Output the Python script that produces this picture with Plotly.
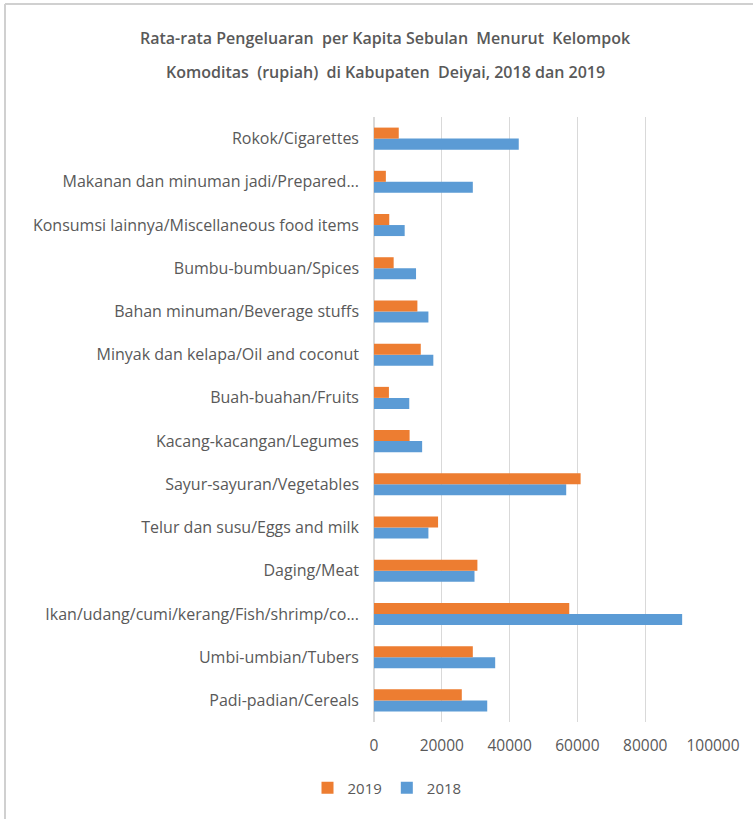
import plotly.graph_objects as go

categories = [
    "Padi-padian/Cereals",
    "Umbi-umbian/Tubers",
    "Ikan/udang/cumi/kerang/Fish/shrimp/co...",
    "Daging/Meat",
    "Telur dan susu/Eggs and milk",
    "Sayur-sayuran/Vegetables",
    "Kacang-kacangan/Legumes",
    "Buah-buahan/Fruits",
    "Minyak dan kelapa/Oil and coconut",
    "Bahan minuman/Beverage stuffs",
    "Bumbu-bumbuan/Spices",
    "Konsumsi lainnya/Miscellaneous food items",
    "Makanan dan minuman jadi/Prepared...",
    "Rokok/Cigarettes",
]
values_2019 = [25900, 29150, 57600, 30500, 18900, 60950, 10500, 4400, 13800, 12800, 5800, 4500, 3500, 7300]
values_2018 = [33400, 35750, 90900, 29650, 16050, 56700, 14200, 10400, 17500, 16050, 12400, 9050, 29150, 42700]
x_ticks = [0, 20000, 40000, 60000, 80000, 100000]

W, H = 753, 819
L, R, T, B = 374, 713, 117, 722

def px(x):
    return (x - L) / (R - L)

def py(y):
    return (B - y) / (B - T)

fig = go.Figure()
fig.add_trace(go.Bar(y=categories, x=values_2018, name="2018", orientation="h",
                     marker=dict(color="#5B9BD5", line=dict(width=0))))
fig.add_trace(go.Bar(y=categories, x=values_2019, name="2019", orientation="h",
                     marker=dict(color="#ED7D31", line=dict(width=0))))

gray = "#595959"
fig.update_layout(
    width=W, height=H,
    margin=dict(l=L, r=W - R, t=T, b=H - B, autoexpand=False),
    paper_bgcolor="white", plot_bgcolor="white",
    barmode="group", bargap=0.49, bargroupgap=0,
    font=dict(family="Open Sans", color=gray, size=13),
    showlegend=True,
    legend=dict(orientation="h", traceorder="reversed", x=px(387), y=py(788),
                xanchor="center", yanchor="middle", font=dict(size=15, color=gray),
                itemwidth=30),
    xaxis=dict(range=[0, 100000], tickvals=x_ticks, ticktext=[str(v) for v in x_ticks],
               showgrid=True, gridcolor="#D9D9D9", gridwidth=1, zeroline=True,
               zerolinecolor="#D9D9D9", showline=False, ticks="", ticklabelstandoff=12,
               tickfont=dict(size=15.5, color=gray), fixedrange=True),
    yaxis=dict(type="category", categoryorder="array", categoryarray=categories,
               showgrid=False, ticks="", ticklabelstandoff=14,
               tickfont=dict(size=16, color=gray), showline=False),
)

title_lines = [
    ("Rata-rata Pengeluaran  per Kapita Sebulan  Menurut  Kelompok", 38),
    ("Komoditas  (rupiah)  di Kabupaten  Deiyai, 2018 dan 2019", 72),
]
for text, yy in title_lines:
    fig.add_annotation(text=text, xref="paper", yref="paper", x=px(385), y=py(yy),
                       xanchor="center", yanchor="middle", showarrow=False,
                       font=dict(family="Open Sans", size=16, color=gray, weight=600))

# outer chart border (left and top visible)
fig.add_shape(type="line", xref="paper", yref="paper", x0=px(5), x1=px(5), y0=py(4), y1=py(825),
              line=dict(color="#D0D0D0", width=2))
fig.add_shape(type="line", xref="paper", yref="paper", x0=px(5), x1=px(760), y0=py(4), y1=py(4),
              line=dict(color="#D0D0D0", width=2))

fig.write_html("out.html", config={"displayModeBar": False},
               post_script="document.body.style.margin='0px';")
